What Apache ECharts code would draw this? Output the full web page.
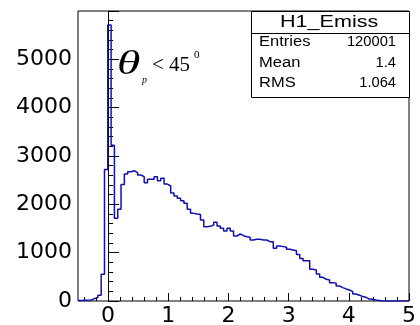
<!DOCTYPE html>
<html><head><meta charset="utf-8">
<script src="https://cdn.jsdelivr.net/npm/echarts@6/dist/echarts.min.js"></script>
<style>html,body{margin:0;padding:0;background:#fff}#c{width:420px;height:325px}</style>
</head><body><div id="c"></div>
<script>
// Histogram binning (100 bins from -0.5 to 5)
const binLow = -0.5;
const binWidth = 0.055;
// Bin contents
const counts = [
  10, 15, 15, 20, 50, 70, 120, 555, 2720, 5710,
  3220, 1710, 1900, 2410, 2627, 2676, 2696, 2655, 2607, 2572,
  2448, 2517, 2517, 2572, 2489, 2538, 2420, 2379, 2234, 2172,
  2124, 2075, 2020, 1896, 1813, 1799, 1790, 1676, 1538, 1545,
  1572, 1628, 1551, 1503, 1448, 1503, 1448, 1345, 1386, 1351,
  1330, 1317, 1262, 1276, 1276, 1262, 1262, 1227, 1227, 1090,
  1138, 1125, 1111, 1069, 1055, 1041, 960, 880, 834, 834,
  656, 640, 560, 490, 450, 434, 380, 366, 310, 276,
  250, 228, 193, 145, 120, 95, 76, 40, 35, 20,
  10, 0, 0, 0, 0, 0, 0, 0, 0, 0
];
const xMajorTicks = [0, 1, 2, 3, 4, 5];
const xMinorTicks = [-0.4, -0.2, 0.2, 0.4, 0.6, 0.8, 1.2, 1.4, 1.6, 1.8, 2.2, 2.4, 2.6, 2.8, 3.2, 3.4, 3.6, 3.8, 4.2, 4.4, 4.6, 4.8];
const yMax = 6000;
const yInterval = 1000;
const statsTitle = 'H1_Emiss';
const statsNames = ['Entries', 'Mean', 'RMS'];
const statsValues = ['120001', '1.4', '1.064'];

const pts = counts.map((c, k) => [binLow + binWidth * k, c]);
pts.push([binLow + binWidth * counts.length, counts[counts.length - 1]]);

const chart = echarts.init(document.getElementById('c'), null, {renderer: 'canvas'});
const labelFont = {fontFamily: 'DejaVu Sans', fontSize: 22, color: '#000'};
const statFont = 'Liberation Sans';

function txt(x, y, s, font, align, sx) {
  return {type: 'text', x: x, y: y, z: 102, scaleX: sx || 1, originX: 0, originY: 0,
    style: {text: s, font: font, fill: '#000', textAlign: align, textVerticalAlign: 'middle'}};
}

chart.setOption({
  animation: false,
  grid: {left: 78, right: 11, top: 11, bottom: 24, show: true, borderColor: '#000', borderWidth: 1,
         containLabel: false, outerBoundsMode: 'none'},
  xAxis: [{
    type: 'value', min: -0.5, max: 5,
    splitLine: {show: false},
    axisLine: {show: false},
    axisTick: {show: true, inside: true, length: 8, customValues: xMajorTicks, lineStyle: {color: '#000', width: 1}},
    axisLabel: Object.assign({margin: 4, customValues: xMajorTicks, lineHeight: 22}, labelFont)
  }, {
    type: 'value', min: -0.5, max: 5, position: 'bottom',
    splitLine: {show: false},
    axisLine: {show: false},
    axisTick: {show: true, inside: true, length: 4, customValues: xMinorTicks, lineStyle: {color: '#000', width: 1}},
    axisLabel: {show: false}
  }],
  yAxis: {
    type: 'value', min: 0, max: yMax, interval: yInterval,
    splitLine: {show: false},
    axisLine: {show: true, lineStyle: {color: '#000'}},
    axisTick: {show: true, inside: true, length: 11, lineStyle: {color: '#000'}},
    minorTick: {show: true, splitNumber: 5, length: 5, lineStyle: {color: '#000'}},
    axisLabel: Object.assign({margin: 6, showMaxLabel: false, formatter: v => String(v)}, labelFont)
  },
  series: [{
    type: 'line', xAxisIndex: 0, data: pts, step: 'end', symbol: 'none',
    lineStyle: {color: '#1010b0', width: 1.5}
  }],
  graphic: [
    {type: 'rect', x: 251.5, y: 11.5, shape: {x: 0, y: 0, width: 158, height: 86}, style: {fill: '#fff', stroke: '#000', lineWidth: 1}, z: 100},
    {type: 'line', x: 0, y: 0, shape: {x1: 251.5, y1: 33.5, x2: 409.5, y2: 33.5}, style: {stroke: '#000', lineWidth: 1}, z: 101},
    txt(330 - 50, 22.5, statsTitle, '17px "' + statFont + '"', 'left', 1.27),
    ...statsNames.map((n, i) => txt(259, 42.5 + i * 20.5, n, '14px "' + statFont + '"', 'left', 1.18)),
    ...statsValues.map((v, i) => txt(396, 42.5 + i * 20.5, v, '14px "' + statFont + '"', 'right', 1.05)),
    txt(117, 65, 'θ', 'italic 34px "Liberation Serif"', 'left', 1.4),
    txt(142, 80, 'p', 'italic 10px "Liberation Serif"', 'left', 1),
    txt(152, 65, '< 45', '21px "Liberation Serif"', 'left', 1),
    txt(194, 55, '0', '11px "Liberation Serif"', 'left', 1)
  ]
});
</script></body></html>
